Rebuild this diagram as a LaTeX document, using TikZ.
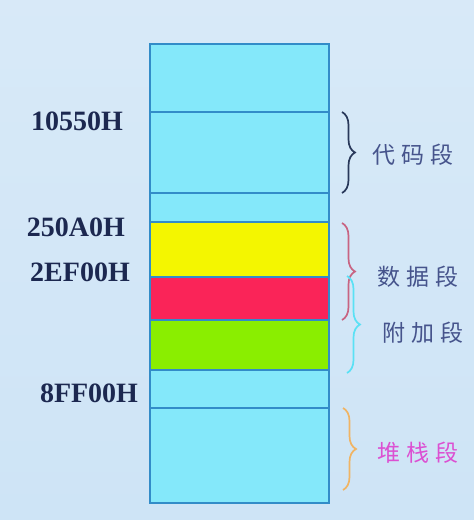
\documentclass[tikz,border=0pt]{standalone}
\usepackage{fontspec}
\setmainfont{Liberation Serif}
\newfontfamily\cjk{Noto Sans CJK SC}
\usetikzlibrary{decorations.pathreplacing}
\definecolor{bgc}{RGB}{206,228,246}
\definecolor{cyanseg}{RGB}{132,232,250}
\definecolor{yelseg}{RGB}{244,246,0}
\definecolor{redseg}{RGB}{250,36,88}
\definecolor{grnseg}{RGB}{138,238,0}
\definecolor{edge}{RGB}{50,140,200}
\definecolor{addr}{RGB}{28,40,80}
\definecolor{segtxt}{RGB}{70,84,140}
\definecolor{bcode}{RGB}{40,56,90}
\definecolor{bdata}{RGB}{200,100,130}
\definecolor{bextra}{RGB}{90,225,245}
\definecolor{bstack}{RGB}{240,180,100}
\definecolor{stacktxt}{RGB}{220,80,210}
\tikzset{
  seg/.style={draw=edge, line width=1.2pt, anchor=north west, inner sep=0pt, outer sep=0pt, minimum width=179pt},
  addrlbl/.style={font=\fontsize{28}{28}\selectfont\bfseries, text=addr, inner sep=0pt},
  seglbl/.style={font=\cjk\fontsize{23}{23}\selectfont, text=segtxt, inner sep=0pt, anchor=west},
  bracestyle/.style={decorate, decoration={brace, amplitude=13pt}, line width=1.7pt}
}
\begin{document}
\begin{tikzpicture}[x=1pt, y=-1pt]
\useasboundingbox (0,0) rectangle (474,520);
\shade[top color=bgc!80!white, bottom color=bgc] (0,0) rectangle (474,520);
% segments
\node[seg, fill=cyanseg, minimum height=68pt] (s1) at (150,44) {};
\node[seg, fill=cyanseg, minimum height=81pt] (s2) at (150,112) {};
\node[seg, fill=cyanseg, minimum height=29pt] (s3) at (150,193) {};
\node[seg, fill=yelseg, minimum height=55pt] (s4) at (150,222) {};
\node[seg, fill=redseg, minimum height=43pt] (s5) at (150,277) {};
\node[seg, fill=grnseg, minimum height=50pt] (s6) at (150,320) {};
\node[seg, fill=cyanseg, minimum height=38pt] (s7) at (150,370) {};
\node[seg, fill=cyanseg, minimum height=95pt] (s8) at (150,408) {};
% addresses
\node[addrlbl] (a1) at (77,121) {10550H};
\node[addrlbl] (a2) at (76,227) {250A0H};
\node[addrlbl] (a3) at (80,272) {2EF00H};
\node[addrlbl] (a4) at (89,393) {8FF00H};
% braces
\coordinate (c1t) at (342,112); \coordinate (c1b) at (342,193);
\coordinate (c2t) at (342,223); \coordinate (c2b) at (342,320);
\coordinate (c3t) at (347,276); \coordinate (c3b) at (347,373);
\coordinate (c4t) at (343,408); \coordinate (c4b) at (343,490);
\draw[bracestyle, draw=bcode] (c1t) -- (c1b);
\draw[bracestyle, draw=bdata] (c2t) -- (c2b);
\draw[bracestyle, draw=bextra] (c3t) -- (c3b);
\draw[bracestyle, draw=bstack] (c4t) -- (c4b);
% segment names
\node[seglbl] (l1) at (372,155) {代\hspace{6pt}码\hspace{6pt}段};
\node[seglbl] (l2) at (377,277) {数\hspace{6pt}据\hspace{6pt}段};
\node[seglbl] (l3) at (382,333) {附\hspace{6pt}加\hspace{6pt}段};
\node[seglbl, text=stacktxt] (l4) at (377,453) {堆\hspace{6pt}栈\hspace{6pt}段};
\end{tikzpicture}
\end{document}
